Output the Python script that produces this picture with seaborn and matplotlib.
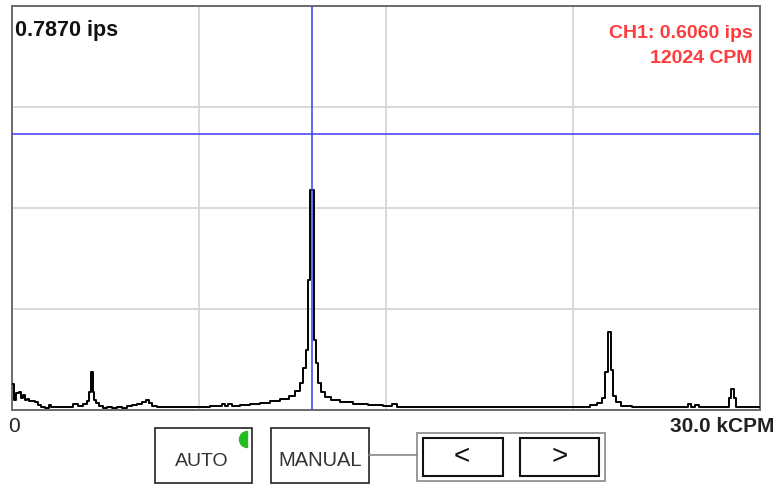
import matplotlib
matplotlib.use("Agg")
import matplotlib.pyplot as plt
from matplotlib.patches import Rectangle, Wedge
from matplotlib.transforms import IdentityTransform
import pandas as pd
import seaborn as sns

# Spectrum points: frequency (kCPM) and velocity amplitude (ips)
freq_kcpm = [0.00, 0.04, 0.12, 0.24, 0.32, 0.40, 0.48, 0.56, 0.64, 0.76, 0.88, 1.00,
             1.12, 1.24, 1.44, 1.52, 1.64, 1.93, 2.33, 2.57, 2.73, 2.93, 3.05, 3.13,
             3.17, 3.21, 3.25, 3.33, 3.41, 3.53, 3.73, 3.93, 4.13, 4.33, 4.53, 4.73,
             4.93, 5.13, 5.33, 5.45, 5.57, 5.70, 5.94, 6.74, 7.54, 8.34, 8.50, 8.62,
             8.74, 8.94, 9.35, 9.75, 10.15, 10.55, 10.95, 11.23, 11.47, 11.63, 11.75,
             11.83, 11.91, 11.99, 12.02, 12.11, 12.15, 12.23, 12.35, 12.47, 12.67,
             12.95, 13.36, 13.96, 14.56, 15.16, 15.36, 15.56, 16.36, 17.57, 19.57,
             21.18, 21.98, 23.02, 23.38, 23.58, 23.74, 23.86, 23.94, 23.98, 24.06,
             24.14, 24.30, 24.58, 25.19, 27.07, 27.19, 27.31, 27.51, 27.63, 28.68,
             28.80, 28.88, 28.92, 29.00, 29.08, 30.00]
amp_ips = [0.0507, 0.0507, 0.0195, 0.0331, 0.0351, 0.0234, 0.0292, 0.0195, 0.0214,
           0.0175, 0.0175, 0.0156, 0.0097, 0.0058, 0.0039, 0.0097, 0.0058, 0.0058,
           0.0058, 0.0117, 0.0078, 0.0117, 0.0175, 0.0351, 0.0740, 0.0740, 0.0351,
           0.0195, 0.0136, 0.0078, 0.0039, 0.0058, 0.0039, 0.0058, 0.0039, 0.0078,
           0.0097, 0.0117, 0.0156, 0.0195, 0.0136, 0.0078, 0.0058, 0.0058, 0.0058,
           0.0078, 0.0117, 0.0078, 0.0117, 0.0078, 0.0097, 0.0117, 0.0136, 0.0175,
           0.0214, 0.0273, 0.0370, 0.0526, 0.0818, 0.1170, 0.2530, 0.4286, 0.4286,
           0.4286, 0.1360, 0.0916, 0.0526, 0.0350, 0.0253, 0.0195, 0.0156, 0.0117,
           0.0097, 0.0078, 0.0117, 0.0058, 0.0049, 0.0049, 0.0049, 0.0049, 0.0049,
           0.0058, 0.0097, 0.0136, 0.0234, 0.0740, 0.1520, 0.1520, 0.0780, 0.0273,
           0.0156, 0.0078, 0.0049, 0.0058, 0.0117, 0.0058, 0.0097, 0.0058, 0.0058,
           0.0234, 0.0410, 0.0410, 0.0234, 0.0058, 0.0049]

full_scale_ips = 0.7870
span_kcpm = 30.0
cursor_cpm = 12024
cursor_ips = 0.6060
cursor_level_ips = 0.538

spectrum = pd.DataFrame({"freq": freq_kcpm, "amp": amp_ips})

sns.set_style("white")
plt.rcParams["font.family"] = ["Liberation Sans", "DejaVu Sans"]

W, H = 780, 484
fig = plt.figure(figsize=(W / 100, H / 100), dpi=100)
ax = fig.add_axes([12 / W, 74 / H, 748 / W, 404 / H])

ax.set_xlim(0, span_kcpm)
ax.set_ylim(0, full_scale_ips)

# grid: four divisions on each axis
for i in range(1, 4):
    ax.axvline(span_kcpm * i / 4, color="#d6d6d6", lw=1.3, zorder=0)
    ax.axhline(full_scale_ips * i / 4, color="#d6d6d6", lw=1.3, zorder=0)

sns.lineplot(data=spectrum, x="freq", y="amp", ax=ax, color="black", lw=1.4,
             drawstyle="steps-mid", zorder=3)

# cursor crosshair
ax.axvline(cursor_cpm / 1000, color="#3a3aff", lw=1.1, zorder=4)
ax.axhline(cursor_level_ips, color="#3a3aff", lw=1.1, zorder=4)

ax.set_xticks([])
ax.set_yticks([])
ax.set_xlabel("")
ax.set_ylabel("")
for sp in ax.spines.values():
    sp.set_color("#6a6a6a")
    sp.set_linewidth(1.4)

ax.text(0.004, 0.94, f"{full_scale_ips:.4f} ips", transform=ax.transAxes,
        ha="left", va="center", fontsize=15.5, fontweight="bold", color="#111111")
ax.text(0.990, 0.933, f"CH1: {cursor_ips:.4f} ips", transform=ax.transAxes,
        ha="right", va="center", fontsize=14, fontweight="bold", color="#ff3b3b")
ax.text(0.990, 0.871, f"{cursor_cpm} CPM", transform=ax.transAxes,
        ha="right", va="center", fontsize=14, fontweight="bold", color="#ff3b3b")

# axis end labels
fig.text(14 / W, 1 - 426 / H, "0", ha="center", va="center", fontsize=15,
         color="#222222")
fig.text(774 / W, 1 - 426 / H, f"{span_kcpm:.1f} kCPM", ha="right", va="center",
         fontsize=15, fontweight="bold", color="#222222")


def px_rect(x0, y0, x1, y1, **kw):
    r = Rectangle((x0 / W, 1 - y1 / H), (x1 - x0) / W, (y1 - y0) / H,
                  transform=fig.transFigure, fill=False, **kw)
    fig.add_artist(r)
    return r


# control buttons
px_rect(155, 428, 252, 483, edgecolor="#222222", lw=1.2)
status = Wedge((247.5, H - 439.5), 8, 90, 270, transform=IdentityTransform(),
               color="#22bb22", zorder=5)
fig.add_artist(status)
fig.text(202 / W, 1 - 461 / H, "AUTO", ha="center", va="center", fontsize=14,
         color="#333333")

px_rect(271, 428, 369, 483, edgecolor="#222222", lw=1.2)
fig.text(320 / W, 1 - 460 / H, "MANUAL", ha="center", va="center", fontsize=14.5,
         color="#333333")

fig.add_artist(plt.Line2D([369 / W, 417 / W], [1 - 455 / H, 1 - 455 / H],
                          transform=fig.transFigure, color="#888888", lw=1.2))
px_rect(417, 433, 605, 481, edgecolor="#999999", lw=1.4)
px_rect(423, 438, 503, 476, edgecolor="#111111", lw=1.5)
px_rect(520, 438, 599, 476, edgecolor="#111111", lw=1.5)
fig.text(462 / W, 1 - 457 / H, "<", ha="center", va="center", fontsize=20,
         color="#111111")
fig.text(560 / W, 1 - 457 / H, ">", ha="center", va="center", fontsize=20,
         color="#111111")

fig.savefig("out.png", dpi=100, facecolor="white")
